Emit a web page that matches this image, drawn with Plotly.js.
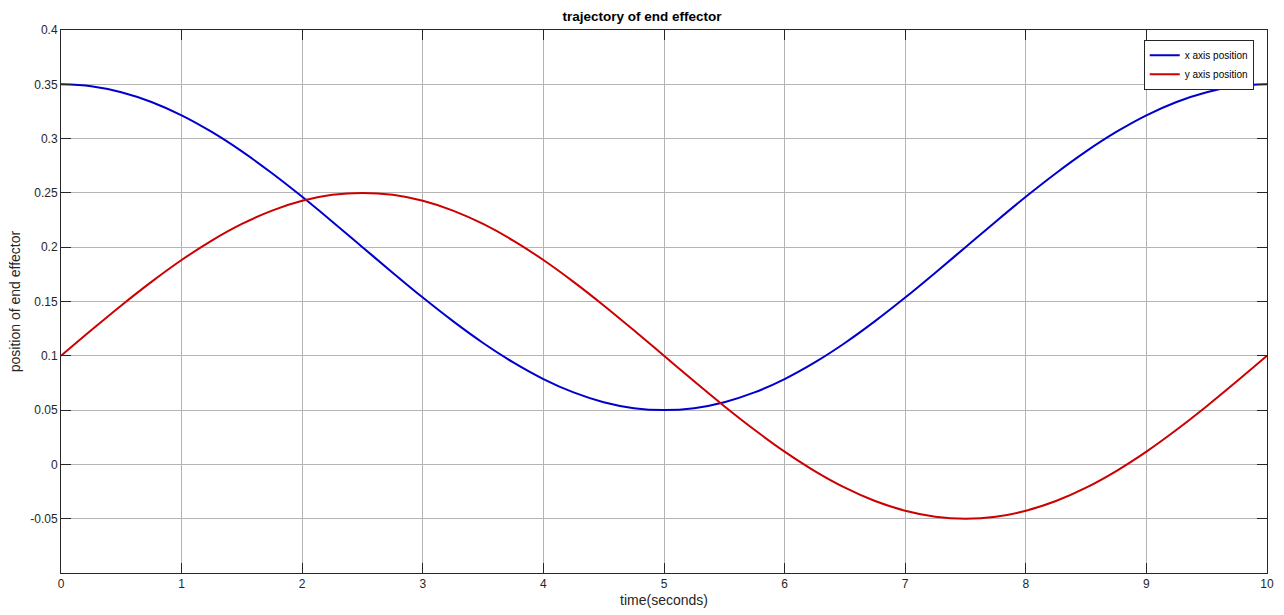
<!DOCTYPE html>
<html>
<head>
<meta charset="utf-8">
<script src="https://cdn.plot.ly/plotly-3.0.1.min.js"></script>
<style>html,body{margin:0;padding:0;background:#fff;}#chart{width:1284px;height:615px;}</style>
</head>
<body>
<div id="chart"></div>
<script>
var time = [0,0.25,0.5,0.75,1,1.25,1.5,1.75,2,2.25,2.5,2.75,3,3.25,3.5,3.75,4,4.25,4.5,4.75,5,5.25,5.5,5.75,6,6.25,6.5,6.75,7,7.25,7.5,7.75,8,8.25,8.5,8.75,9,9.25,9.5,9.75,10];
var xPosition = [0.35,0.3482,0.3427,0.3337,0.3214,0.3061,0.2882,0.2681,0.2464,0.2235,0.2,0.1765,0.1536,0.1319,0.1118,0.0939,0.0786,0.0663,0.0573,0.0518,0.05,0.0518,0.0573,0.0663,0.0786,0.0939,0.1118,0.1319,0.1536,0.1765,0.2,0.2235,0.2464,0.2681,0.2882,0.3061,0.3214,0.3337,0.3427,0.3482,0.35];
var yPosition = [0.1,0.1235,0.1464,0.1681,0.1882,0.2061,0.2214,0.2337,0.2427,0.2482,0.25,0.2482,0.2427,0.2337,0.2214,0.2061,0.1882,0.1681,0.1464,0.1235,0.1,0.0765,0.0536,0.0319,0.0118,-0.0061,-0.0214,-0.0337,-0.0427,-0.0482,-0.05,-0.0482,-0.0427,-0.0337,-0.0214,-0.0061,0.0118,0.0319,0.0536,0.0765,0.1];
var xTicks = [0,1,2,3,4,5,6,7,8,9,10];
var yTicks = [-0.05,0,0.05,0.1,0.15,0.2,0.25,0.3,0.35,0.4];
var yTickText = ['-0.05','0','0.05','0.1','0.15','0.2','0.25','0.3','0.35','0.4'];

var axisColor = '#262626';
var gridColor = '#b4b4b4';
var fontFam = 'Liberation Sans, Arial, sans-serif';

var traces = [
  {x: time, y: xPosition, type: 'scatter', mode: 'lines', name: 'x axis position',
   line: {color: '#0000CC', width: 2, shape: 'spline', smoothing: 1}},
  {x: time, y: yPosition, type: 'scatter', mode: 'lines', name: 'y axis position',
   line: {color: '#CC0000', width: 2, shape: 'spline', smoothing: 1}}
];

var layout = {
  width: 1284, height: 615,
  margin: {l: 61, r: 17, t: 30, b: 42},
  paper_bgcolor: '#ffffff', plot_bgcolor: '#ffffff',
  font: {family: fontFam, size: 12, color: axisColor},
  title: {text: '<b>trajectory of end effector</b>', font: {size: 13.5, color: '#000'}, x: 0.5, xanchor: 'center', y: 0.973, yanchor: 'middle'},
  showlegend: true,
  legend: {x: 0.989, y: 0.982, xanchor: 'right', yanchor: 'top', bgcolor: '#ffffff',
           bordercolor: axisColor, borderwidth: 1, font: {size: 10, color: '#000'},
           tracegroupgap: 0, itemwidth: 30},
  xaxis: {range: [0, 10], tickvals: xTicks, ticktext: xTicks.map(String),
          showgrid: true, gridcolor: gridColor, gridwidth: 1, zeroline: false,
          showline: true, linecolor: axisColor, linewidth: 1, mirror: 'ticks',
          ticks: 'inside', ticklen: 10, tickcolor: axisColor,
          tickfont: {size: 12, color: axisColor},
          title: {text: 'time(seconds)', font: {size: 14, color: axisColor}, standoff: 4}},
  yaxis: {range: [-0.1, 0.4], tickvals: yTicks, ticktext: yTickText,
          showgrid: true, gridcolor: gridColor, gridwidth: 1, zeroline: false,
          showline: true, linecolor: axisColor, linewidth: 1, mirror: 'ticks',
          ticks: 'inside', ticklen: 10, tickcolor: axisColor,
          tickfont: {size: 12, color: axisColor},
          title: {text: 'position of end effector', font: {size: 14, color: axisColor}, standoff: 6}}
};

Plotly.newPlot('chart', traces, layout, {displayModeBar: false, staticPlot: true});
</script>
</body>
</html>
